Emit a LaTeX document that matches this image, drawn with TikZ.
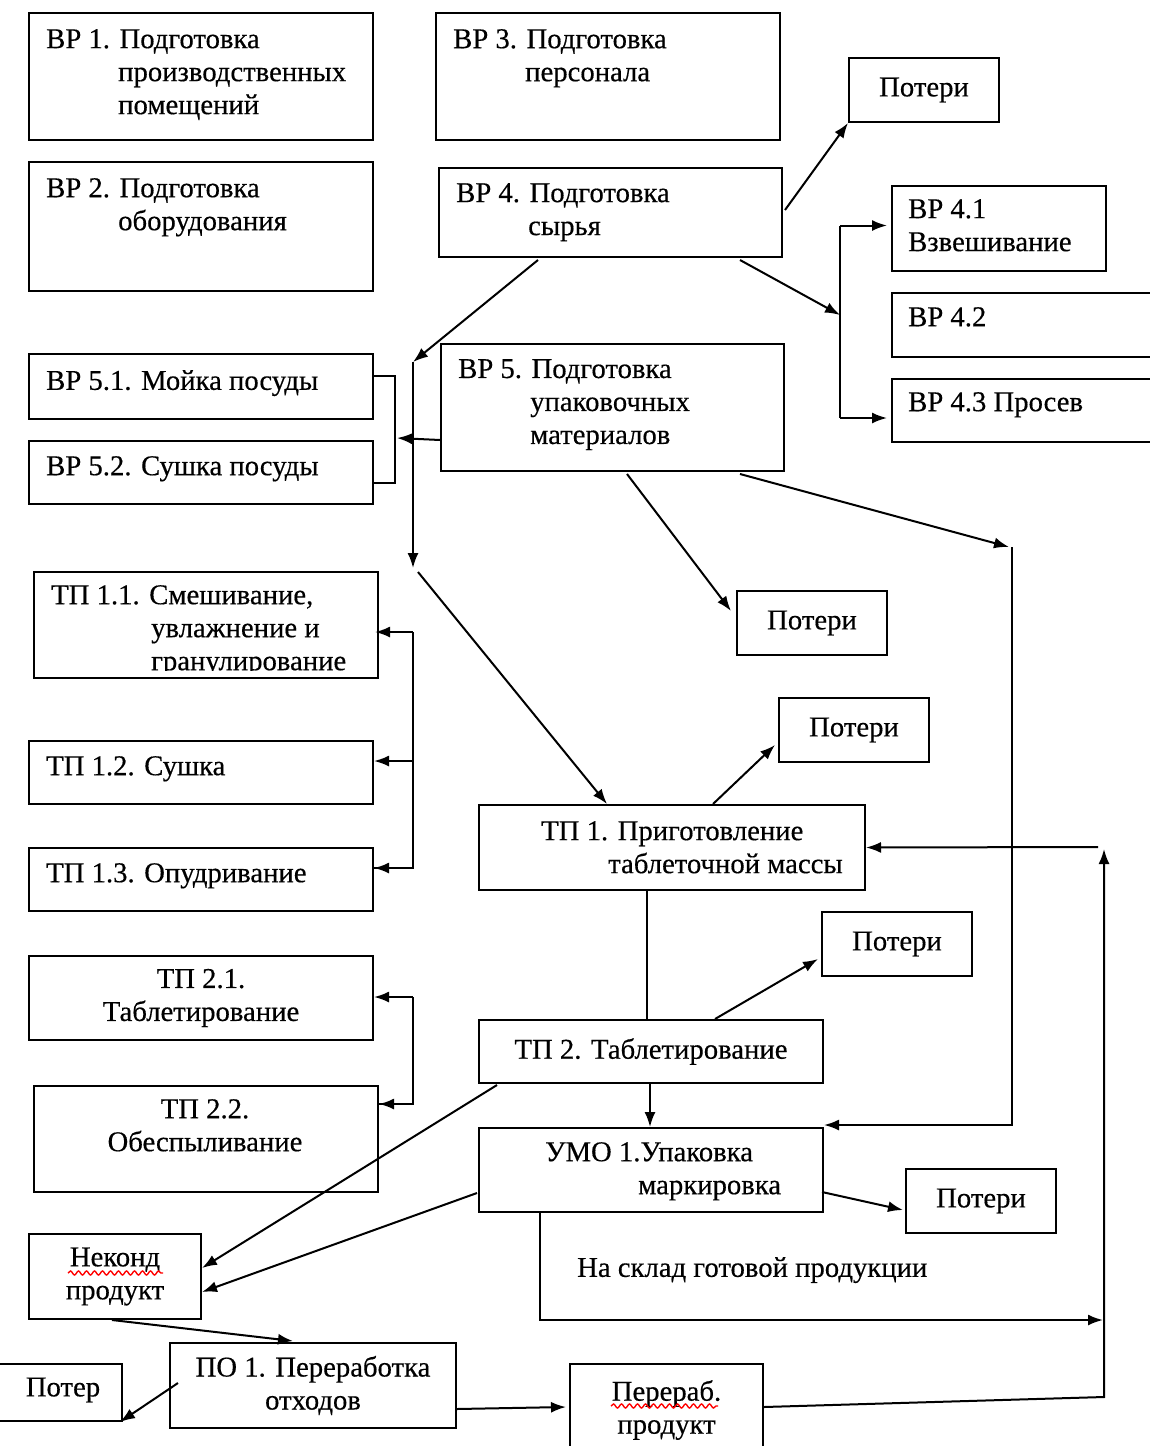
\documentclass[tikz,border=0pt]{standalone}
\usepackage{fontspec}
\setmainfont{Liberation Serif}[FakeBold=0.4]
\usetikzlibrary{positioning,arrows.meta,calc,decorations.pathmorphing}

\begin{document}
\begin{tikzpicture}[x=1pt,y=-1pt,>={Latex[length=15pt,width=11pt]},
  box/.style={draw,line width=2pt,anchor=north west,inner sep=0pt,align=center,font=\fontsize{28.7}{33}\selectfont},
  txt/.style={anchor=north west,inner sep=0pt,align=left,font=\fontsize{28.7}{33}\selectfont},
  arr/.style={->,line width=2pt},
  ln/.style={line width=2pt},
  spell/.style={red,line width=1.4pt,decorate,decoration={snake,amplitude=2pt,segment length=8pt}}]
\useasboundingbox (0,0) rectangle (1149,1446);
% ---- ВР: вспомогательные работы ----
\node[box,minimum width=344,minimum height=127] (vr1) at (28,12) {};
\node[txt] (t-vr1) at (46,29) {ВР 1. Подготовка\\\hspace*{72pt}производственных\\\hspace*{72pt}помещений};
\node[box,minimum width=344,minimum height=127] (vr3) at (435,12) {};
\node[txt] (t-vr3) at (453,29) {ВР 3. Подготовка\\\hspace*{72pt}персонала};
\node[box,minimum width=344,minimum height=129] (vr2) at (28,161) {};
\node[txt] (t-vr2) at (46,178) {ВР 2. Подготовка\\\hspace*{72pt}оборудования};
\node[box,minimum width=343,minimum height=89] (vr4) at (438,167) {};
\node[txt] (t-vr4) at (456,183) {ВР 4. Подготовка\\\hspace*{72pt}сырья};
\node[box,minimum width=150,minimum height=64] (poteri1) at (848,57) {Потери};
% ВР 4.x
\node[box,minimum width=214,minimum height=85] (vr41) at (891,185) {};
\node[txt] (t-vr41) at (908,199) {ВР 4.1\\Взвешивание};
\node[box,minimum width=280,minimum height=64] (vr42) at (891,292) {};
\node[txt] (t-vr42) at (908,307) {ВР 4.2};
\node[box,minimum width=280,minimum height=63] (vr43) at (891,378) {};
\node[txt] (t-vr43) at (908,392) {ВР 4.3 Просев};
% ВР 5.x
\node[box,minimum width=344,minimum height=65] (vr51) at (28,353) {};
\node[txt] (t-vr51) at (46,370) {ВР 5.1. Мойка посуды};
\node[box,minimum width=344,minimum height=63] (vr52) at (28,440) {};
\node[txt] (t-vr52) at (46,456) {ВР 5.2. Сушка посуды};
\node[box,minimum width=343,minimum height=127] (vr5) at (440,343) {};
\node[txt] (t-vr5) at (458,359) {ВР 5. Подготовка\\\hspace*{72pt}упаковочных\\\hspace*{72pt}материалов};
\node[box,minimum width=150,minimum height=64] (poteri2) at (736,590) {Потери};
% ---- ТП: технологический процесс ----
\node[box,minimum width=344,minimum height=106] (tp11) at (33,571) {};
\begin{scope}
  \clip (tp11.north west) rectangle ($(tp11.south east)+(0,-9)$);
  \node[txt] (t-tp11) at (51,585) {ТП 1.1. Смешивание,\\\hspace*{100pt}увлажнение и\\\hspace*{100pt}гранулирование};
\end{scope}
\node[box,minimum width=344,minimum height=63] (tp12) at (28,740) {};
\node[txt] (t-tp12) at (46,756) {ТП 1.2. Сушка};
\node[box,minimum width=344,minimum height=63] (tp13) at (28,847) {};
\node[txt] (t-tp13) at (46,863) {ТП 1.3. Опудривание};
\node[box,minimum width=344,minimum height=84] (tp21) at (28,955) {ТП 2.1.\\Таблетирование};
\node[box,minimum width=344,minimum height=106] (tp22) at (33,1085) {};
\node[txt,anchor=north,align=center] (t-tp22) at (205,1099) {ТП 2.2.\\Обеспыливание};
\node[box,minimum width=386,minimum height=85] (tp1) at (478,804) {};
\node[txt] (t-tp1) at (541,821) {ТП 1. Приготовление\\\hspace*{67pt}таблеточной массы};
\node[box,minimum width=150,minimum height=64] (poteri3) at (778,697) {Потери};
\node[box,minimum width=344,minimum height=63] (tp2) at (478,1019) {ТП 2. Таблетирование};
\node[box,minimum width=150,minimum height=64] (poteri4) at (821,911) {Потери};
% ---- УМО, отходы ----
\node[box,minimum width=344,minimum height=84] (umo1) at (478,1127) {};
\node[txt] (t-umo1) at (545,1142) {УМО 1.Упаковка\\\hspace*{93pt}маркировка};
\node[box,minimum width=150,minimum height=64] (poteri5) at (905,1168) {Потери};
\node[txt] (t-sklad) at (577,1257) {На склад готовой продукции};
\node[box,minimum width=172,minimum height=85] (nekond) at (28,1233) {Неконд\\продукт};
\node[box,minimum width=286,minimum height=85] (po1) at (169,1342) {ПО 1. Переработка\\отходов};
\node[box,minimum width=141,minimum height=57] (poter) at (-20,1363) {};
\node[txt,anchor=center] (t-poter) at (63,1390) {Потер};
\node[box,minimum width=193,minimum height=92] (pererab) at (569,1363) {Перераб.\\продукт};
% spell-check marks
\draw[spell] (68,1273) -- (163,1273);
\draw[spell] (611,1406) -- (718,1406);
% ---- bus points ----
\coordinate (bus4) at (840,315);
\coordinate (bus5) at (413,362);
\coordinate (bus5end) at (413,568);
\coordinate (bus6) at (1012,547);
\coordinate (bus7) at (1104,1320);
\coordinate (bus8) at (1104,849);
\coordinate (bus9) at (1104,1397);
% ---- connectors: ВР 4 ----
\draw[arr] ($(vr4.north east)+(2,43)$) -- (poteri1.south west);
\draw[arr] ($(vr4.south west)+(302,2)$) -- (bus4);
\draw[ln] ($(bus4 |- vr41.west)+(0,-3)$) -- ($(bus4 |- vr43.north west)+(0,40)$);
\draw[arr] ($(bus4 |- vr41.west)+(0,-3)$) -- ($(vr41.west)+(-4,-3)$);
\draw[arr] ($(bus4 |- vr43.north west)+(0,40)$) -- ($(vr43.north west)+(-4,40)$);
\draw[arr] ($(vr4.south west)+(100,2)$) -- (bus5);
\draw[arr] (bus5) -- (bus5end);
% ---- connectors: ВР 5 ----
\draw[ln] ($(vr51.north east)+(0,23)$) -- ++(21,0) |- ($(vr52.north east)+(0,43)$);
\draw[arr] ($(vr5.south west)+(0,-32)$) -- ($(vr52.north east)+(23,-2)$);
\draw[arr] ($(vr5.south west)+(187,2)$) -- ($(poteri2.north west)+(-5,21)$);
\draw[arr] ($(vr5.south west)+(300,2)$) -- ($(bus6)+(-3,0)$);
\draw[arr] (bus6) |- ($(umo1.north east)+(0,-2)$);
% ---- connectors: ТП ----
\draw[arr] ($(bus5end)+(5,4)$) -- ($(tp1.north west)+(129,0)$);
\draw[ln] ($(tp11.north east)+(34,61)$) |- ($(tp13.north east)+(0,21)$);
\draw[arr] ($(tp11.north east)+(34,61)$) -- ($(tp11.north east)+(-4,61)$);
\draw[arr] ($(tp12.north east)+(39,21)$) -- ($(tp12.north east)+(0,21)$);
\draw[arr] ($(tp13.north east)+(39,21)$) -- ($(tp13.north east)+(0,21)$);
\draw[ln] ($(tp21.north east)+(39,42)$) |- ($(tp22.north east)+(0,19)$);
\draw[arr] ($(tp21.north east)+(39,42)$) -- ($(tp21.north east)+(0,42)$);
\draw[arr] ($(tp22.north east)+(34,19)$) -- ($(tp22.north east)+(0,19)$);
\draw[arr] ($(tp1.north west)+(235,0)$) -- ($(poteri3.south west)+(-3,-18)$);
\draw[ln] ($(tp1.south west)+(169,0)$) -- ($(tp2.north west)+(169,0)$);
\draw[arr] ($(tp2.north west)+(237,0)$) -- ($(poteri4.south west)+(-3,-18)$);
\draw[arr] ($(tp2.south west)+(172,0)$) -- ($(umo1.north west)+(172,0)$);
\draw[arr] ($(tp2.south west)+(19,1)$) -- ($(nekond.north east)+(0,35)$);
% ---- connectors: УМО и отходы ----
\draw[arr] ($(umo1.south west)+(-1,-20)$) -- ($(nekond.north east)+(0,59)$);
\draw[arr] ($(umo1.north east)+(-2,65)$) -- ($(poteri5.north west)+(-2,42)$);
\draw[arr] ($(umo1.south west)+(62,0)$) |- ($(bus7)+(-1,0)$);
\draw[arr] ($(pererab.north east)+(0,44)$) -- (bus9) -- (bus8);
\draw[arr] ($(bus8)+(-6,-2)$) -- (tp1.east);
\draw[arr] ($(nekond.south west)+(84,0)$) -- ($(po1.north west)+(124,-1)$);
\draw[arr] ($(po1.north west)+(9,41)$) -- ($(poter.south east)+(-3,0)$);
\draw[arr] ($(po1.south east)+(0,-20)$) -- ($(pererab.north west)+(-3,44)$);
\end{tikzpicture}
\end{document}
